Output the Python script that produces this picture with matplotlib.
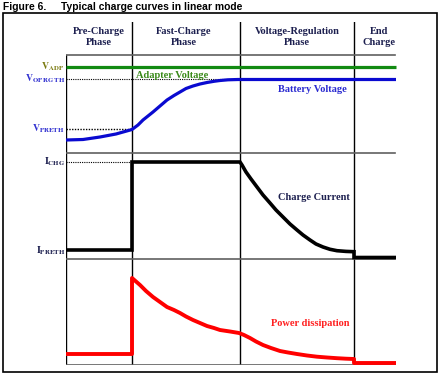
import matplotlib
matplotlib.use("Agg")
import matplotlib.pyplot as plt
from matplotlib.patches import Rectangle

plt.rcParams['mathtext.fontset'] = 'stix'

# ---- data (arbitrary units; time axis 0..330) ----
phase_edges = [66, 174, 288]
t_end = 330
phase_names = ["Pre-Charge\nPhase", "Fast-Charge\nPhase", "Voltage-Regulation\nPhase", "End\nCharge"]
phase_centers = [33, 118, 231, 313]

V_ADP = 86
V_OPREGTH = 73.5
V_PRETH = 24
batt_t = [0, 17, 34, 50, 66, 72, 77, 82, 87, 94, 101, 108, 114, 120, 127, 134, 141, 148, 154, 162, 172, 330]
batt_v = [13, 13.5, 16, 19, 23.5, 28, 33, 37, 41, 47, 53, 57.5, 61, 64.5, 67, 69, 70.5, 71.7, 72.5, 73.2, 73.5, 73.5]

I_CHG = 97
I_PRETH = 9
cur_t = [0, 66, 66, 174, 176, 180, 185, 191, 197, 204, 210, 217, 224, 231, 237, 244, 250, 257, 264,
         271, 280, 288, 288, 330]
cur_i = [9, 9, 97, 97, 94, 87, 80, 72, 64, 56, 49, 42, 35, 29, 24, 19, 15, 12, 9.7,
         8.3, 7.6, 7.3, 1.5, 1.5]

pow_t = [0, 66, 66, 70, 74, 80, 87, 94, 101, 108, 114, 120, 127, 134, 141, 148, 154, 164, 173, 178, 184,
         190, 197, 205, 214, 222, 231, 241, 251, 261, 271, 280, 288, 288, 330]
pow_p = [11, 11, 87, 83.5, 80, 74, 68, 63, 58, 55, 52, 48.5, 45, 42, 39, 37, 35, 33.5, 32, 30, 27,
         23.5, 20, 17, 14, 12.5, 11, 9.5, 8.3, 7.5, 6.8, 6.3, 6, 2, 2]

W, H = 442, 375
fig = plt.figure(figsize=(W / 100, H / 100), dpi=100)

def fx(px):
    return px / W

def fy(py):
    return 1 - py / H

def add_panel(top, bottom, ymax):
    ax = fig.add_axes([fx(66), fy(bottom), fx(396) - fx(66), (bottom - top) / H])
    ax.set_xlim(0, t_end)
    ax.set_ylim(0, ymax)
    ax.axis('off')
    ax.patch.set_alpha(0)
    return ax

serif = 'Liberation Serif'
navy = '#1c1f4f'

# frame axes for grid lines
axf = add_panel(22, 365, 343)
for e in phase_edges:
    axf.axvline(e, ymin=0, ymax=1, color='black', lw=1.0, zorder=1)
axf.axvline(0, ymin=0, ymax=(365 - 55) / 343, color='black', lw=1.0, zorder=1)
for py in [55, 153, 259, 365]:
    axf.axhline(365 - py, xmin=0, xmax=(395 - 66) / 330, color='#606060', lw=1.2, zorder=1)

for name, c in zip(phase_names, phase_centers):
    axf.text(c, 365 - 37, name, ha='center', va='center', fontsize=7.5,
             fontfamily=serif, fontweight='bold', color=navy, linespacing=1.15)

# voltage panel
axv = add_panel(55, 153, 98)
axv.plot([0, t_end], [V_ADP, V_ADP], color='#128a12', lw=2.3, solid_capstyle='butt', clip_on=False)
axv.plot([0, 174], [V_OPREGTH + 0.5, V_OPREGTH + 0.5], color='black', lw=0.8, ls=(0, (1, 1)))
axv.plot([0, 66], [V_PRETH, V_PRETH], color='black', lw=1.0, ls=(0, (1, 1)))
axv.plot(batt_t, batt_v, color='#0a0ad0', lw=2.3, clip_on=False, solid_capstyle='butt')
axv.text(-2, V_ADP, r'$\mathbf{V}_{\mathbf{ADP}}$', ha='right', va='center', fontsize=7, color='#7a7a10')
axv.text(-1, V_OPREGTH + 1, r'$\mathbf{V}_{\mathbf{OP\,RG\,TH}}$', ha='right', va='center', fontsize=7, color='#3030d0')
axv.text(-1, V_PRETH, r'$\mathbf{V}_{\mathbf{PRETH}}$', ha='right', va='center', fontsize=7, color='#3030d0')
axv.text(70, 78, 'Adapter Voltage', ha='left', va='center', fontsize=7.5,
         fontfamily=serif, fontweight='bold', color='#3a8a1a')
axv.text(212, 64, 'Battery Voltage', ha='left', va='center', fontsize=7.5,
         fontfamily=serif, fontweight='bold', color='#2a2ad0')

# current panel
axi = add_panel(153, 259, 106)
axi.plot([0, 66], [I_CHG, I_CHG], color='black', lw=0.8, ls=(0, (1, 1)))
axi.plot(cur_t, cur_i, color='black', lw=2.6, clip_on=False, solid_joinstyle='miter', solid_capstyle='butt')
axi.text(-1, I_CHG, r'$\mathbf{I}_{\mathbf{CHG}}$', ha='right', va='center', fontsize=7, color=navy)
axi.text(-1, I_PRETH - 1, r'$\mathbf{I}_{\mathbf{PRETH}}$', ha='right', va='center', fontsize=7, color=navy)
axi.text(212, 62, 'Charge Current', ha='left', va='center', fontsize=7.5,
         fontfamily=serif, fontweight='bold', color=navy)

# power panel
axp = add_panel(259, 365, 106)
axp.plot(pow_t, pow_p, color='#ff0000', lw=2.8, clip_on=False, solid_capstyle='butt')
axp.text(205, 41, 'Power dissipation', ha='left', va='center', fontsize=7.5,
         fontfamily=serif, fontweight='bold', color='#ff2020')

# outer frame and title
fig.patches.append(Rectangle((fx(3), fy(372)), fx(437) - fx(3), (372 - 13) / H,
                             transform=fig.transFigure, fill=False, edgecolor='black', lw=1.2))
fig.text(fx(3), fy(7), 'Figure 6.', ha='left', va='center', fontsize=7.4,
         fontfamily='Liberation Sans', fontweight='bold')
fig.text(fx(61), fy(7), 'Typical charge curves in linear mode', ha='left', va='center', fontsize=7.4,
         fontfamily='Liberation Sans', fontweight='bold')

fig.savefig('out.png', dpi=100)
